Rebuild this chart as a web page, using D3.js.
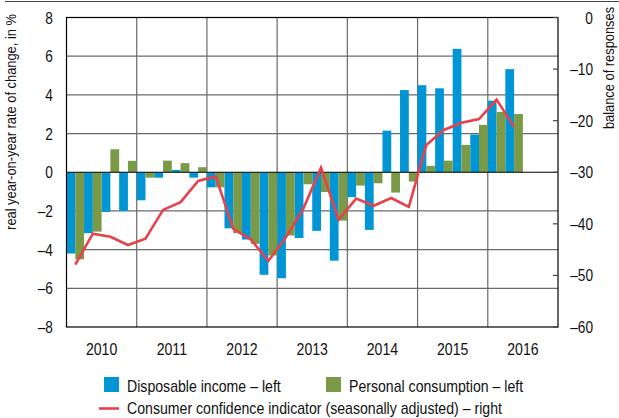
<!DOCTYPE html>
<html>
<head>
<meta charset="utf-8">
<script src="https://cdn.jsdelivr.net/npm/d3@7"></script>
<style>
  body { margin: 0; background: #fff; }
  svg text { font-family: "Liberation Sans", Arial, sans-serif; fill: #111; }
</style>
</head>
<body>
<svg id="canvas" width="619" height="418"></svg>
<script>
// quarters 2010 Q1 .. 2016 Q2
let quarters = ['2010Q1','2010Q2','2010Q3','2010Q4','2011Q1','2011Q2','2011Q3','2011Q4',
  '2012Q1','2012Q2','2012Q3','2012Q4','2013Q1','2013Q2','2013Q3','2013Q4',
  '2014Q1','2014Q2','2014Q3','2014Q4','2015Q1','2015Q2','2015Q3','2015Q4','2016Q1','2016Q2']
let years = [2010, 2011, 2012, 2013, 2014, 2015, 2016]

let income = [-4.2, -3.15, -2.05, -2.0, -1.45, -0.28, 0.12, -0.28,
  -0.78, -2.9, -3.48, -5.3, -5.48, -3.4, -3.03, -4.57,
  -1.29, -2.98, 2.15, 4.25, 4.5, 4.34, 6.38, 1.95, 3.7, 5.33]
let consumption = [-4.5, -3.07, 1.19, 0.59, -0.28, 0.6, 0.47, 0.26,
  -0.78, -3.15, -3.7, -4.3, -3.27, -0.62, -1.02, -2.5,
  -0.69, -0.57, -1.05, -0.48, 0.33, 0.6, 1.41, 2.45, 3.12, 3.01]
let confidence = [-47.9, -41.9, -42.5, -44.1, -42.9, -37.3, -35.8, -31.7,
  -30.8, -41.0, -43.0, -47.2, -42.6, -37.0, -29.1, -39.2,
  -35.1, -36.5, -35.0, -36.7, -24.7, -21.8, -20.4, -19.7, -15.9, -21.2]

let leftTicks = [8, 6, 4, 2, 0, -2, -4, -6, -8]
let rightTicks = [0, -10, -20, -30, -40, -50, -60]

let blue = '#0096d6'
let green = '#7a9a48'
let red = '#e8414b'

let canvas = d3.select('#canvas')

let pLeft = 66.5, pRight = 558, pTop = 17.5, pBottom = 327

let x = d3.scaleLinear().domain([2010, 2017]).range([pLeft, pRight])
let yL = d3.scaleLinear().domain([-8, 8]).range([pBottom, pTop])
let yR = d3.scaleLinear().domain([-60, 0]).range([pBottom, pTop])
let qw = x(2010.25) - x(2010)
let qx = (i) => x(2010 + i / 4)
let fmt = (v) => v < 0 ? '\u2013' + Math.abs(v) : String(v)

// top rule
canvas.append('line').attr('x1', 5).attr('x2', 619).attr('y1', 1.5).attr('y2', 1.5)
  .attr('stroke', '#444').attr('stroke-width', 1)

// grid
canvas.append('g').selectAll('line').data(leftTicks.filter(d => d !== 0 && Math.abs(d) !== 8)).enter()
  .append('line')
  .attr('x1', pLeft).attr('x2', pRight)
  .attr('y1', d => yL(d)).attr('y2', d => yL(d))
  .attr('stroke', '#6a6a6a').attr('stroke-width', 1.2)
canvas.append('g').selectAll('line').data(years.slice(1)).enter()
  .append('line')
  .attr('x1', d => x(d)).attr('x2', d => x(d))
  .attr('y1', pTop).attr('y2', pBottom)
  .attr('stroke', '#6a6a6a').attr('stroke-width', 1.2)

// bars
canvas.append('g').selectAll('rect').data(income).enter()
  .append('rect')
  .attr('x', (d, i) => qx(i))
  .attr('width', qw / 2)
  .attr('y', d => yL(Math.max(0, d)))
  .attr('height', d => Math.abs(yL(d) - yL(0)))
  .attr('fill', blue)
canvas.append('g').selectAll('rect').data(consumption).enter()
  .append('rect')
  .attr('x', (d, i) => qx(i) + qw / 2)
  .attr('width', qw / 2)
  .attr('y', d => yL(Math.max(0, d)))
  .attr('height', d => Math.abs(yL(d) - yL(0)))
  .attr('fill', green)

// zero line and frame
canvas.append('line').attr('x1', pLeft).attr('x2', pRight).attr('y1', yL(0)).attr('y2', yL(0))
  .attr('stroke', '#000').attr('stroke-width', 1.2)
canvas.append('rect').attr('x', pLeft).attr('y', pTop).attr('width', pRight - pLeft).attr('height', pBottom - pTop)
  .attr('fill', 'none').attr('stroke', '#000').attr('stroke-width', 1.2)

// right ticks (inside)
canvas.append('g').selectAll('line').data(rightTicks).enter()
  .append('line')
  .attr('x1', pRight - 5).attr('x2', pRight)
  .attr('y1', d => yR(d)).attr('y2', d => yR(d))
  .attr('stroke', '#444').attr('stroke-width', 1.2)

// confidence line
let line = d3.line().x((d, i) => qx(i) + qw / 2).y(d => yR(d))
canvas.append('path').datum(confidence)
  .attr('d', line)
  .attr('fill', 'none').attr('stroke', red).attr('stroke-width', 2.6)
  .attr('stroke-linejoin', 'miter')

// axis labels
canvas.append('g').selectAll('text').data(leftTicks).enter()
  .append('text')
  .attr('x', 53).attr('y', d => yL(d) + 6)
  .attr('text-anchor', 'end').attr('font-size', 16.5)
  .text(fmt)
canvas.append('g').selectAll('text').data(rightTicks).enter()
  .append('text')
  .attr('x', 593).attr('y', d => yR(d) + 6)
  .attr('text-anchor', 'end').attr('font-size', 16.5)
  .text(fmt)
canvas.append('g').selectAll('text').data(years).enter()
  .append('text')
  .attr('x', d => x(d + 0.5)).attr('y', 355)
  .attr('text-anchor', 'middle').attr('font-size', 17)
  .text(d => d)

// legend
let legend = canvas.append('g')
legend.append('rect').attr('x', 104).attr('y', 377).attr('width', 15).attr('height', 15).attr('fill', blue)
legend.append('text').attr('x', 127).attr('y', 392).attr('font-size', 17).text('Disposable income \u2013 left')
legend.append('rect').attr('x', 326).attr('y', 377).attr('width', 15).attr('height', 15).attr('fill', green)
legend.append('text').attr('x', 349).attr('y', 392).attr('font-size', 17).text('Personal consumption \u2013 left')
legend.append('line').attr('x1', 99).attr('x2', 119).attr('y1', 408.5).attr('y2', 408.5)
  .attr('stroke', red).attr('stroke-width', 2.6)
legend.append('text').attr('x', 127).attr('y', 414).attr('font-size', 17)
  .text('Consumer confidence indicator (seasonally adjusted) \u2013 right')

// narrow look: squeeze every text horizontally
canvas.selectAll('text').each(function () {
  let w = this.getComputedTextLength()
  this.setAttribute('textLength', w * 0.83)
  this.setAttribute('lengthAdjust', 'spacingAndGlyphs')
})

// rotated axis titles, squeezed with a scale so their box stays honest
canvas.append('text')
  .attr('transform', 'translate(16,122) rotate(-90) scale(0.83,1)')
  .attr('text-anchor', 'middle').attr('font-size', 15.5)
  .text('real year-on-year rate of change, in %')
canvas.append('text')
  .attr('transform', 'translate(614,68) rotate(-90) scale(0.83,1)')
  .attr('text-anchor', 'middle').attr('font-size', 15.5)
  .text('balance of responses')
</script>
</body>
</html>
